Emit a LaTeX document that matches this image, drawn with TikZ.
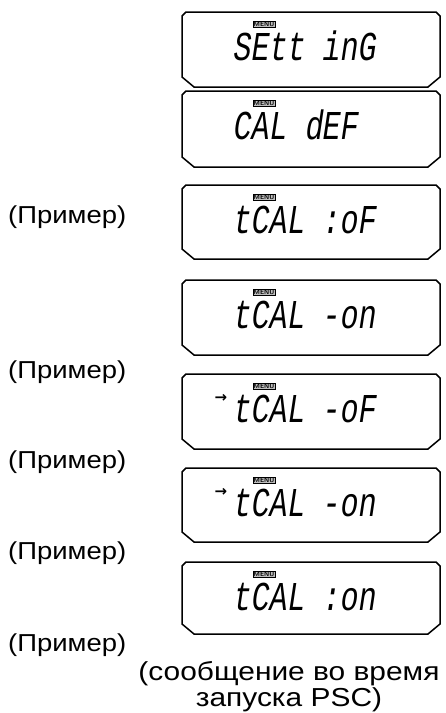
\documentclass[tikz,border=0pt]{standalone}
\usepackage{fontspec}
\setmainfont{Liberation Sans}
\newfontfamily\labelfont{Liberation Sans}[FakeStretch=1.12]
\newfontfamily\notefont{Liberation Sans}[FakeStretch=1.15]
\newfontfamily\lcdfont{Liberation Mono}[FakeSlant=0.15,FakeStretch=0.73]
\newfontfamily\symfont{DejaVu Sans}
\begin{document}
\begin{tikzpicture}[x=1pt,y=-1pt,
  lcdbox/.style={line width=1.5pt,line join=miter},
  lcdtext/.style={anchor=base west,inner sep=0pt,text height=27pt,text depth=0pt,font=\lcdfont\fontsize{41}{41}\selectfont},
  menutag/.style={draw,line width=0.5pt,fill=black!25,inner xsep=0.8pt,inner ysep=0.5pt,font=\sffamily\bfseries\fontsize{6.5}{6.5}\selectfont},
  arrowmark/.style={inner sep=0pt,font=\symfont\bfseries\fontsize{15}{15}\selectfont},
  example/.style={anchor=west,inner sep=0pt,font=\labelfont\fontsize{24.5}{28}\selectfont},
  note/.style={align=center,inner sep=0pt,font=\notefont\fontsize{26}{26}\selectfont}]
\useasboundingbox (0,0) rectangle (445,713);
% boxes: index/top/bottom/text
\foreach \i/\t/\b/\txt in {1/12/87/{SEtt inG},2/91/167/{CAL dEF},3/185/259/{tCAL :oF},4/280/355/{tCAL -on},5/374/449/{tCAL -oF},6/468/542/{tCAL -on},7/562/634/{tCAL :on}}{
  \draw[lcdbox] (182,\t+4) -- (186,\t) -- (436,\t) -- (440,\t+4) -- (440,\b-10) -- (428,\b) -- (194,\b) -- (182,\b-10) -- cycle;
  \node[lcdtext] (d\i) at (232,\t+48) {\txt};
  \node[menutag] (m\i) at (264,\t+12) {MENU};
}
\node[arrowmark] (a5) at (221,374+24) {→};
\node[arrowmark] (a6) at (221,468+24) {→};
\node[example] (e1) at (8,217) {(Пример)};
\node[example] (e2) at (8,372) {(Пример)};
\node[example] (e3) at (8,462) {(Пример)};
\node[example] (e4) at (8,553) {(Пример)};
\node[example] (e5) at (8,645) {(Пример)};
\node[note] (n1) at (289,687) {(сообщение во время\\запуска PSC)};
\end{tikzpicture}
\end{document}
